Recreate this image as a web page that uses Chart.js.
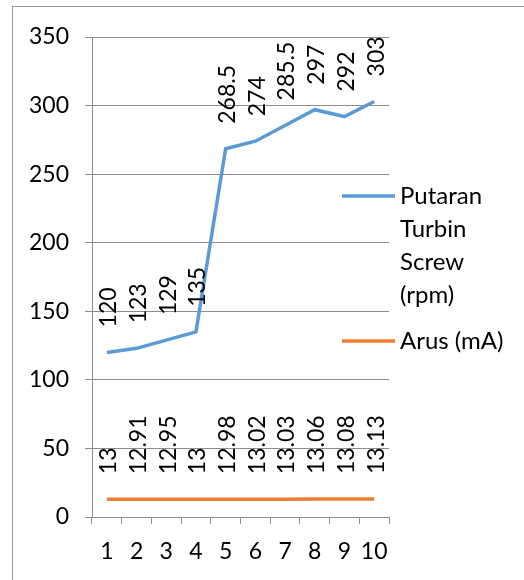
<!DOCTYPE html>
<html>
<head>
<meta charset="utf-8">
<script src="https://cdn.jsdelivr.net/npm/chart.js@4.4.1/dist/chart.umd.min.js"></script>
<style>
  html, body { margin: 0; padding: 0; background: #fff; }
  #wrap { position: relative; width: 524px; height: 580px; }
</style>
</head>
<body>
<div id="wrap"><canvas id="chart" width="524" height="580"></canvas></div>
<script>
let categories = ["1", "2", "3", "4", "5", "6", "7", "8", "9", "10"];
let putaran = [120, 123, 129, 135, 268.5, 274, 285.5, 297, 292, 303];
let arus = [13, 12.91, 12.95, 13, 12.98, 13.02, 13.03, 13.06, 13.08, 13.13];
let putaranLabel = ["Putaran", "Turbin", "Screw", "(rpm)"];
let arusLabel = ["Arus (mA)"];
let yTicks = [0, 50, 100, 150, 200, 250, 300, 350];

let blue = "#5B9BD5";
let orange = "#ED7D31";
let gridColor = "#8c8c8c";
let fontFamily = "Lato, 'Open Sans', sans-serif";

Chart.defaults.font.family = fontFamily;
Chart.defaults.color = "#000";

// rotated value labels above each point
const valueLabels = {
    id: "valueLabels",
    afterDatasetsDraw(chart) {
        let ctx = chart.ctx;
        ctx.save();
        ctx.font = "23px " + fontFamily;
        ctx.fillStyle = "#000";
        ctx.textAlign = "left";
        ctx.textBaseline = "middle";
        chart.data.datasets.forEach((ds, i) => {
            let meta = chart.getDatasetMeta(i);
            meta.data.forEach((pt, j) => {
                ctx.save();
                ctx.translate(pt.x + 2, pt.y - 25);
                ctx.rotate(-Math.PI / 2);
                ctx.fillText(String(ds.data[j]), 0, 0);
                ctx.restore();
            });
        });
        ctx.restore();
    }
};

// outer frame + legend on the right
const frameLegend = {
    id: "frameLegend",
    beforeDraw(chart) {
        let ctx = chart.ctx;
        ctx.save();
        ctx.strokeStyle = "#9a9a9a";
        ctx.lineWidth = 1;
        ctx.strokeRect(12.5, 6.5, 700, 700);
        ctx.restore();
    },
    afterDraw(chart) {
        let ctx = chart.ctx;
        ctx.save();
        ctx.font = "24px " + fontFamily;
        ctx.fillStyle = "#000";
        ctx.textBaseline = "middle";
        ctx.lineWidth = 3.5;
        let items = [
            { color: blue, lines: putaranLabel, y: 196 },
            { color: orange, lines: arusLabel, y: 341 }
        ];
        items.forEach(it => {
            ctx.strokeStyle = it.color;
            ctx.beginPath();
            ctx.moveTo(342, it.y);
            ctx.lineTo(395, it.y);
            ctx.stroke();
            it.lines.forEach((t, k) => {
                ctx.fillText(t, 400, it.y + k * 33);
            });
        });
        ctx.restore();
    }
};

new Chart(document.getElementById("chart"), {
    type: "line",
    data: {
        labels: categories,
        datasets: [
            { label: "Putaran Turbin Screw (rpm)", data: putaran, borderColor: blue, borderWidth: 3.5, pointRadius: 0, tension: 0, fill: false },
            { label: "Arus (mA)", data: arus, borderColor: orange, borderWidth: 3.5, pointRadius: 0, tension: 0, fill: false }
        ]
    },
    options: {
        responsive: false,
        animation: false,
        layout: { padding: { left: 0, top: 37, right: 135, bottom: 0 } },
        plugins: {
            legend: { display: false },
            tooltip: { enabled: false }
        },
        scales: {
            x: {
                offset: true,
                grid: { offset: true, drawOnChartArea: false, drawTicks: true, tickLength: 7, color: gridColor },
                border: { color: gridColor },
                ticks: { font: { size: 23 }, padding: 14, maxRotation: 0, autoSkip: false },
                afterFit(scale) { scale.height = 63; }
            },
            y: {
                min: 0,
                max: 350,
                afterBuildTicks(scale) { scale.ticks = yTicks.map(v => ({ value: v })); },
                grid: { color: gridColor, tickLength: 7 },
                border: { color: gridColor },
                ticks: { font: { size: 23 }, padding: 16 },
                afterFit(scale) { scale.width = 92; }
            }
        }
    },
    plugins: [frameLegend, valueLabels]
});
</script>
</body>
</html>
